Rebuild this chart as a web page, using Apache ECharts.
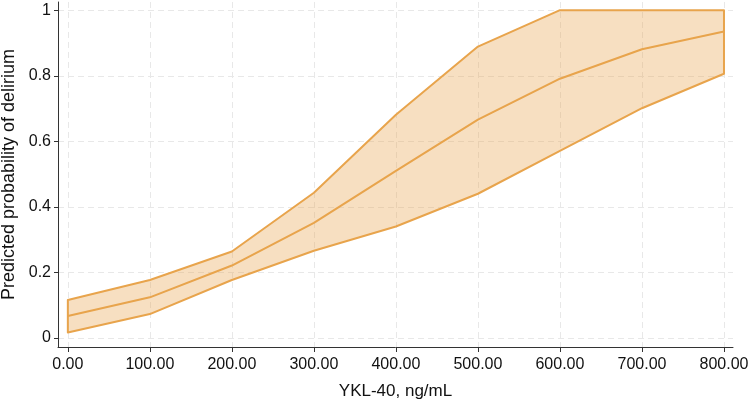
<!DOCTYPE html>
<html>
<head>
<meta charset="utf-8">
<script src="https://cdn.jsdelivr.net/npm/echarts@6/dist/echarts.min.js"></script>
<style>
  html, body { margin: 0; padding: 0; background: #fff; }
  #main { width: 750px; height: 400px; }
</style>
</head>
<body>
<div id="main"></div>
<script>
// YKL-40 levels (ng/mL)
const xValues = [0, 100, 200, 300, 400, 500, 600, 700, 800];
// predicted probability and 95% CI
const predicted = [0.067, 0.124, 0.221, 0.351, 0.51, 0.666, 0.791, 0.881, 0.935];
const upperCI = [0.116, 0.177, 0.264, 0.443, 0.681, 0.889, 1.0, 1.0, 1.0];
const lowerCI = [0.017, 0.073, 0.177, 0.266, 0.34, 0.44, 0.571, 0.701, 0.806];
const xTicks = [0, 100, 200, 300, 400, 500, 600, 700, 800];
const yTicks = [0, 0.2, 0.4, 0.6, 0.8, 1];

const lineColor = '#E8A44C';
const fillColor = 'rgba(233, 162, 77, 0.35)';
const textFont = 'Liberation Sans';

const chart = echarts.init(document.getElementById('main'));

// CI band: one closed polygon (upper line, right edge, lower line back, left edge)
function renderBand(params, api) {
  if (params.dataIndex !== 0) return null;
  const pts = [];
  for (let i = 0; i < xValues.length; i++) pts.push(api.coord([xValues[i], upperCI[i]]));
  for (let i = xValues.length - 1; i >= 0; i--) pts.push(api.coord([xValues[i], lowerCI[i]]));
  return {
    type: 'polygon',
    shape: { points: pts },
    style: { fill: fillColor, stroke: lineColor, lineWidth: 2, lineJoin: 'round' }
  };
}

const option = {
  animation: false,
  grid: { left: 58, right: 17, top: 2, bottom: 53, outerBoundsMode: 'none' },
  xAxis: {
    type: 'value',
    min: -12,
    max: 811,
    name: 'YKL-40, ng/mL',
    nameLocation: 'middle',
    nameGap: 36,
    nameTextStyle: { fontFamily: textFont, fontSize: 17, color: '#111' },
    axisLine: { show: true, onZero: false, lineStyle: { color: '#333', width: 1 } },
    axisTick: { show: true, length: 5, customValues: xTicks, lineStyle: { color: '#333' } },
    axisLabel: {
      customValues: xTicks,
      formatter: v => v.toFixed(2),
      fontFamily: textFont, fontSize: 16, color: '#111', margin: 10
    },
    splitLine: { show: true, lineStyle: { color: '#e8e8e8', type: [6, 4], width: 1 } }
  },
  yAxis: {
    type: 'value',
    min: -0.0275,
    max: 1.025,
    name: 'Predicted probability of delirium',
    nameLocation: 'middle',
    nameGap: 35,
    nameTextStyle: { fontFamily: textFont, fontSize: 18, color: '#111' },
    axisLine: { show: true, onZero: false, lineStyle: { color: '#333', width: 1 } },
    axisTick: { show: true, length: 4, customValues: yTicks, lineStyle: { color: '#333' } },
    axisLabel: {
      customValues: yTicks,
      formatter: v => String(v),
      fontFamily: textFont, fontSize: 16, color: '#111', margin: 7
    },
    splitLine: { show: true, lineStyle: { color: '#e8e8e8', type: [6, 4], width: 1 } }
  },
  series: [
    {
      name: 'CI',
      type: 'custom',
      renderItem: renderBand,
      data: xValues.map((x, i) => [x, lowerCI[i], upperCI[i]]),
      encode: { x: 0, y: [1, 2] },
      silent: true,
      z: 2
    },
    {
      name: 'predicted',
      type: 'line',
      data: xValues.map((x, i) => [x, predicted[i]]),
      symbol: 'none',
      lineStyle: { color: lineColor, width: 2 },
      z: 3
    }
  ]
};

chart.setOption(option);
</script>
</body>
</html>
